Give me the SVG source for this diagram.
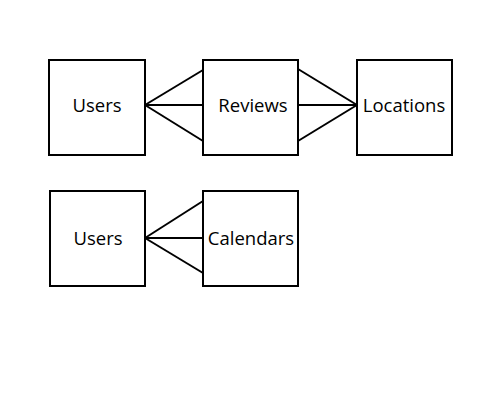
<svg xmlns="http://www.w3.org/2000/svg" width="489" height="417" viewBox="0 0 489 417">
<style>
.box{fill:#fff;stroke:#000;stroke-width:2}
.lbl{font-family:"Open Sans","Noto Sans",sans-serif;font-size:18.5px;fill:#000;text-anchor:middle;dominant-baseline:central}
.conn line{stroke:#000;stroke-width:2}
</style>
<rect width="489" height="417" fill="#fff"/>
<g id="connectors" class="conn">
<line x1="145" y1="105" x2="203" y2="70"/>
<line x1="145" y1="105" x2="203" y2="105"/>
<line x1="145" y1="105" x2="203" y2="141"/>
<line x1="298" y1="69" x2="357" y2="105"/>
<line x1="298" y1="105" x2="357" y2="105"/>
<line x1="298" y1="141" x2="357" y2="105"/>
<line x1="145" y1="238" x2="203" y2="201"/>
<line x1="145" y1="238" x2="203" y2="238"/>
<line x1="145" y1="238" x2="203" y2="273"/>
</g>
<g id="users1"><rect class="box" x="49" y="60" width="96" height="95"/><text class="lbl" x="97" y="104">Users</text></g>
<g id="reviews"><rect class="box" x="203" y="60" width="95" height="95"/><text class="lbl" x="253" y="104">Reviews</text></g>
<g id="locations"><rect class="box" x="357" y="60" width="95" height="95"/><text class="lbl" x="404" y="104">Locations</text></g>
<g id="users2"><rect class="box" x="50" y="191" width="95" height="95"/><text class="lbl" x="98" y="237">Users</text></g>
<g id="calendars"><rect class="box" x="203" y="191" width="95" height="95"/><text class="lbl" x="251" y="237">Calendars</text></g>
</svg>
